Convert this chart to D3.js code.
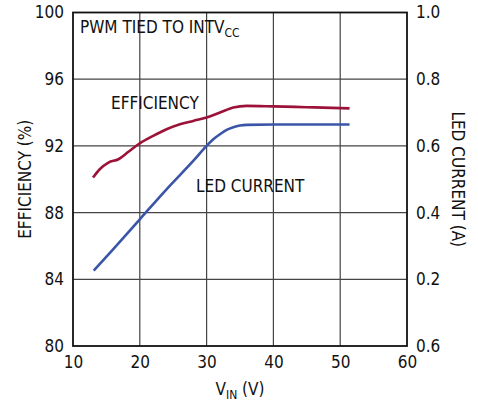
<!DOCTYPE html>
<html>
<head>
<meta charset="utf-8">
<script src="https://cdn.jsdelivr.net/npm/d3@7"></script>
<style>
  body { margin: 0; background: #fff; }
  svg { display: block; }
  text { font-family: "Liberation Sans Narrow", "DejaVu Sans Condensed", "Roboto Condensed", Arial, sans-serif; fill: #111; }
</style>
</head>
<body>
<script>
// efficiency curve (VIN in volts, efficiency in %)
const effVin = [13.0, 14.0, 15.3, 16.8, 18.3, 19.8, 22.0, 24.0, 26.0, 28.0, 30.0, 32.0, 34.0, 36.0, 40.0, 45.0, 51.4];
const effPct = [90.1, 90.6, 91.0, 91.2, 91.65, 92.1, 92.6, 93.0, 93.3, 93.5, 93.7, 94.0, 94.3, 94.4, 94.37, 94.32, 94.25];

// LED current curve (VIN in volts, current in A)
const ledVin = [13.1, 16.0, 20.0, 24.0, 28.0, 30.0, 31.0, 32.0, 33.0, 34.0, 35.0, 36.0, 40.0, 45.0, 51.4];
const ledAmp = [0.226, 0.29, 0.38, 0.47, 0.555, 0.60, 0.62, 0.635, 0.648, 0.656, 0.661, 0.663, 0.664, 0.664, 0.664];

const xTicks = [10, 20, 30, 40, 50, 60];
const leftTicks = [80, 84, 88, 92, 96, 100];
const rightTicks = [0, 0.2, 0.4, 0.6, 0.8, 1.0];
const rightTickLabels = ['0.6', '0.2', '0.4', '0.6', '0.8', '1.0'];

const fullW = 478, fullH = 404;
const margin = { left: 73, top: 12.5, right: 71, bottom: 58 };
const width = fullW - margin.left - margin.right,
      height = fullH - margin.top - margin.bottom;

const svg = d3.select('body').append('svg')
  .attr('width', fullW)
  .attr('height', fullH);

const g = svg.append('g')
  .attr('transform', 'translate(' + margin.left + ',' + margin.top + ')');

const x = d3.scaleLinear().domain([10, 60]).range([0, width]);
const yL = d3.scaleLinear().domain([80, 100]).range([height, 0]);
const yR = d3.scaleLinear().domain([0, 1.0]).range([height, 0]);

// gridlines
g.append('g')
  .selectAll('line')
  .data(xTicks.slice(1, -1))
  .enter().append('line')
  .attr('x1', d => x(d)).attr('x2', d => x(d))
  .attr('y1', 0).attr('y2', height)
  .attr('stroke', '#444').attr('stroke-width', 1.2);

g.append('g')
  .selectAll('line')
  .data(leftTicks.slice(1, -1))
  .enter().append('line')
  .attr('x1', 0).attr('x2', width)
  .attr('y1', d => yL(d)).attr('y2', d => yL(d))
  .attr('stroke', '#444').attr('stroke-width', 1.2);

// axes (labels only, frame drawn below)
const fontSize = 17;

const xAxis = g.append('g')
  .attr('transform', 'translate(0,' + height + ')')
  .call(d3.axisBottom(x).tickValues(xTicks).tickSize(0).tickPadding(10).tickFormat(d3.format('d')));

const leftAxis = g.append('g')
  .call(d3.axisLeft(yL).tickValues(leftTicks).tickSize(0).tickPadding(9).tickFormat(d3.format('d')));

const rightAxis = g.append('g')
  .attr('transform', 'translate(' + width + ',0)')
  .call(d3.axisRight(yR).tickValues(rightTicks).tickSize(0).tickPadding(9)
    .tickFormat((d, i) => rightTickLabels[i]));

[xAxis, leftAxis, rightAxis].forEach(a => {
  a.select('.domain').remove();
  a.selectAll('text').style('font-size', fontSize + 'px').attr('fill', '#111')
    .style('font-family', null);
});

// frame
g.append('rect')
  .attr('width', width).attr('height', height)
  .attr('fill', 'none').attr('stroke', '#111').attr('stroke-width', 1.8);

// curves
const effLine = d3.line()
  .x((d, i) => x(effVin[i]))
  .y(d => yL(d))
  .curve(d3.curveMonotoneX);

const ledLine = d3.line()
  .x((d, i) => x(ledVin[i]))
  .y(d => yR(d))
  .curve(d3.curveMonotoneX);

g.append('path')
  .attr('d', effLine(effPct))
  .attr('fill', 'none')
  .attr('stroke', '#9c1239')
  .attr('stroke-width', 2.6);

g.append('path')
  .attr('d', ledLine(ledAmp))
  .attr('fill', 'none')
  .attr('stroke', '#3a55a8')
  .attr('stroke-width', 2.6);

// annotations
const t1 = svg.append('text')
  .attr('x', 80).attr('y', 33)
  .style('font-size', fontSize + 'px')
  .text('PWM TIED TO INTV');
t1.append('tspan').attr('dy', 4).style('font-size', '12px').text('CC');

svg.append('text')
  .attr('x', 111).attr('y', 109)
  .style('font-size', fontSize + 'px')
  .text('EFFICIENCY');

svg.append('text')
  .attr('x', 196).attr('y', 192)
  .style('font-size', fontSize + 'px')
  .text('LED CURRENT');

// axis titles
const xt = svg.append('text')
  .attr('x', margin.left + width / 2).attr('y', 395)
  .attr('text-anchor', 'middle')
  .style('font-size', fontSize + 'px')
  .text('V');
xt.append('tspan').attr('dy', 4).style('font-size', '12px').text('IN');
xt.append('tspan').attr('dy', -4).text(' (V)');

svg.append('text')
  .attr('transform', 'translate(31,' + (margin.top + height / 2) + ') rotate(-90)')
  .attr('text-anchor', 'middle')
  .style('font-size', fontSize + 'px')
  .text('EFFICIENCY (%)');

svg.append('text')
  .attr('transform', 'translate(452,' + (margin.top + height / 2) + ') rotate(90)')
  .attr('text-anchor', 'middle')
  .style('font-size', fontSize + 'px')
  .text('LED CURRENT (A)');
</script>
</body>
</html>
